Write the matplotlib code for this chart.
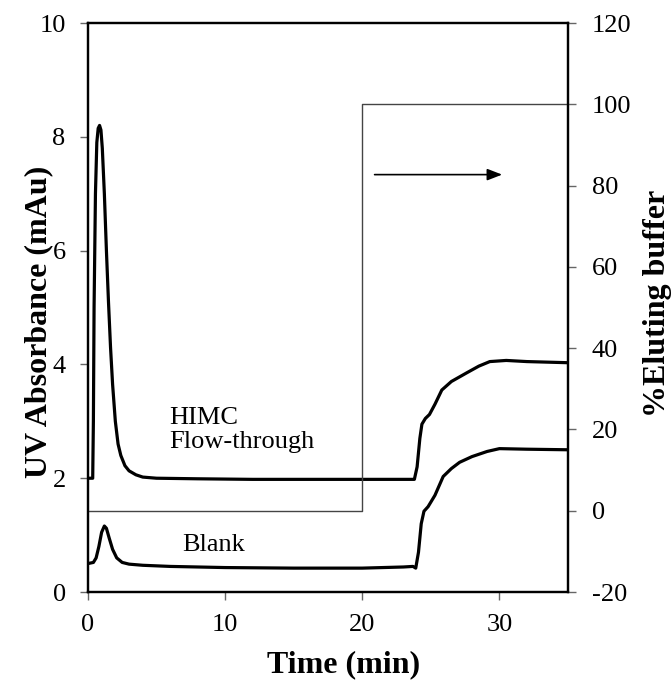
import matplotlib
matplotlib.use("Agg")
import matplotlib.pyplot as plt

plt.rcParams['font.family'] = ['Liberation Serif', 'DejaVu Serif']
plt.rcParams['axes.unicode_minus'] = False

# HIMC flow-through UV trace (time in min, absorbance in mAu)
himc_t = [0.0, 0.35, 0.40, 0.45, 0.55, 0.65, 0.75, 0.85, 0.95, 1.05, 1.2, 1.35,
          1.5, 1.65, 1.8, 2.0, 2.2, 2.4, 2.7, 3.0, 3.5, 4.0, 5.0, 8.0, 12.0,
          16.0, 20.0, 23.5, 23.8, 24.0, 24.2, 24.35, 24.6, 24.9, 25.3, 25.8,
          26.5, 27.6, 28.5, 29.3, 30.5, 32.0, 35.0]
himc_v = [2.0, 2.0, 3.0, 5.0, 7.0, 7.9, 8.15, 8.2, 8.12, 7.8, 7.0, 6.0,
          5.1, 4.3, 3.65, 3.0, 2.6, 2.4, 2.22, 2.13, 2.06, 2.02, 2.0, 1.99, 1.98,
          1.98, 1.98, 1.98, 1.98, 2.2, 2.7, 2.95, 3.05, 3.12, 3.3, 3.55,
          3.7, 3.85, 3.97, 4.05, 4.07, 4.05, 4.03]

# Blank run UV trace
blank_t = [0.0, 0.4, 0.6, 0.8, 1.0, 1.2, 1.35, 1.55, 1.8, 2.1, 2.5, 3.0, 4.0,
           6.0, 10.0, 15.0, 20.0, 23.0, 23.7, 23.9, 24.1, 24.3, 24.5, 24.8,
           25.3, 25.9, 26.5, 27.1, 28.0, 29.1, 30.0, 32.0, 35.0]
blank_v = [0.5, 0.52, 0.6, 0.8, 1.05, 1.16, 1.12, 0.95, 0.75, 0.6, 0.52, 0.49,
           0.47, 0.45, 0.43, 0.42, 0.42, 0.44, 0.45, 0.42, 0.7, 1.2, 1.42, 1.5,
           1.7, 2.03, 2.17, 2.28, 2.38, 2.47, 2.52, 2.51, 2.50]

# Step gradient of eluting buffer (%)
grad_t = [0, 20, 20, 35]
grad_v = [0, 0, 100, 100]

fig = plt.figure(figsize=(6.71, 6.83), dpi=100)
ax = fig.add_axes([0.131, 0.1332, 0.7155, 0.8331])
ax2 = ax.twinx()

ax.plot(himc_t, himc_v, color='black', lw=2.3, solid_joinstyle='round')
ax.plot(blank_t, blank_v, color='black', lw=2.3, solid_joinstyle='round')
ax2.plot(grad_t, grad_v, color='#444444', lw=1.0)

ax.set_xlim(0, 35)
ax.set_ylim(0, 10)
ax2.set_ylim(-20, 120)
ax.set_xticks([0, 10, 20, 30])
ax.set_yticks([0, 2, 4, 6, 8, 10])
ax2.set_yticks([-20, 0, 20, 40, 60, 80, 100, 120])

fs = 19
ax.tick_params(axis='both', direction='out', length=6, width=1.0, color='#666666',
               labelsize=fs, pad=10)
ax2.tick_params(axis='y', direction='out', length=6, width=1.0, color='#666666',
                labelsize=fs, pad=11)

for a in (ax, ax2):
    for s in a.spines.values():
        s.set_linewidth(1.6)
        s.set_color('black')

ax.set_xlabel('Time (min)', fontsize=23, fontweight='bold', va='center')
ax.set_ylabel('UV Absorbance (mAu)', fontsize=23, fontweight='bold', va='center')
ax2.set_ylabel('%Eluting buffer', fontsize=23, fontweight='bold', va='center')
ax.xaxis.set_label_coords(0.533, -0.128)
ax.yaxis.set_label_coords(-0.102, 0.474)
ax2.yaxis.set_label_coords(1.187, 0.508)

ax.text(5.9, 2.85, 'HIMC\nFlow-through', fontsize=fs, ha='left', va='center',
        linespacing=1.1)
ax.text(6.85, 0.82, 'Blank', fontsize=fs, ha='left', va='center')

ax2.annotate('', xy=(30.2, 82.7), xytext=(20.9, 82.7),
             arrowprops=dict(arrowstyle='-|>,head_length=0.9,head_width=0.35',
                             color='black', lw=1.2, shrinkA=0, shrinkB=0))

fig.savefig('out.png', dpi=100)
